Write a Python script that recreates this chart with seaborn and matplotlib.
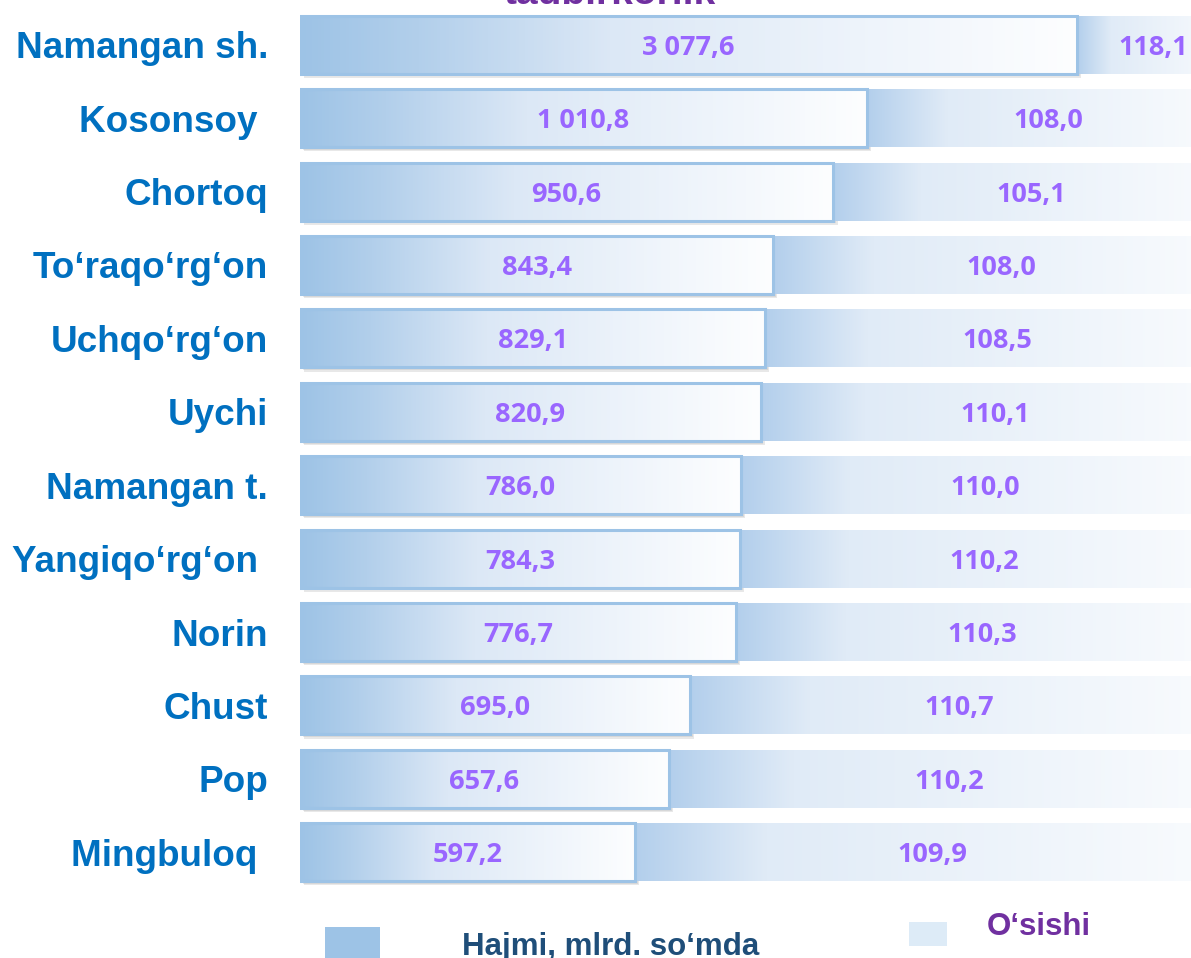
import numpy as np
import pandas as pd
import seaborn as sns
import matplotlib.pyplot as plt
import matplotlib.patheffects as pe
from matplotlib.colors import LinearSegmentedColormap
from matplotlib.patches import Rectangle

# Ma'lumotlar
hududlar = ['Namangan sh.', 'Kosonsoy ', 'Chortoq', 'To‘raqo‘rg‘on', 'Uchqo‘rg‘on', 'Uychi',
            'Namangan t.', 'Yangiqo‘rg‘on ', 'Norin', 'Chust', 'Pop', 'Mingbuloq ']
hajmi = [3077.6, 1010.8, 950.6, 843.4, 829.1, 820.9, 786.0, 784.3, 776.7, 695.0, 657.6, 597.2]
osishi = [118.1, 108.0, 105.1, 108.0, 108.5, 110.1, 110.0, 110.2, 110.3, 110.7, 110.2, 109.9]

UZILISH = 1385   # o'q uzilishi (Namangan sh. juda katta)
JAMI = 1656      # ikkinchi bo'lak tugaydigan joy
XMAX = 1588

df = pd.DataFrame({'hudud': hududlar, 'hajmi': hajmi, 'osishi': osishi})
df['korsat'] = np.minimum(df['hajmi'], UZILISH)
df['jami'] = JAMI


def fmt(v):
    return f"{v:,.1f}".replace(',', ' ').replace('.', ',')


sns.set_style('white')
plt.rcParams['font.family'] = ['Liberation Sans', 'DejaVu Sans']

fig = plt.figure(figsize=(11.91, 9.58), dpi=100)
ax = fig.add_axes([300 / 1191, 69 / 958, 891 / 1191, 881 / 958])

sns.barplot(data=df, y='hudud', x='jami', orient='h', color='#E2ECF8', width=0.79,
            linewidth=0, ax=ax)
sns.barplot(data=df, y='hudud', x='korsat', orient='h', color='#C9DCF1', width=0.79,
            linewidth=0, ax=ax)

n = len(df)
orqa = ax.patches[:n]
old = ax.patches[n:2 * n]

cm2 = LinearSegmentedColormap.from_list('o2', [(0, '#B3CFEC'), (0.22, '#E0EBF7'), (1, '#FAFCFE')])
cm1 = LinearSegmentedColormap.from_list('o1', [(0, '#9DC3E6'), (0.15, '#B2CFEB'),
                                               (0.4, '#DCE8F6'), (1, '#FDFEFF')])
grad = np.linspace(0, 1, 256).reshape(1, -1)

for p_bg, p in zip(orqa, old):
    y0, h = p.get_y(), p.get_height()
    w = p.get_width()
    # ikkinchi bo'lak gradienti
    im = ax.imshow(grad, cmap=cm2, aspect='auto', extent=[w, JAMI, y0 + h, y0], zorder=1.5)
    im.set_clip_path(p_bg)
    # birinchi bo'lak: soya + gradient + chegara
    p.set_path_effects([pe.SimplePatchShadow(offset=(3, -3), shadow_rgbFace='#999999', alpha=0.22),
                        pe.SimplePatchShadow(offset=(2, -2), shadow_rgbFace='#999999', alpha=0.2),
                        pe.Normal()])
    im = ax.imshow(grad, cmap=cm1, aspect='auto', extent=[0, w, y0 + h, y0], zorder=2.5)
    im.set_clip_path(p)
    ax.add_patch(Rectangle((0, y0), w, h, fill=False, edgecolor='#9DC3E6', lw=2.2, zorder=3))

for i, p in enumerate(old):
    yc = p.get_y() + p.get_height() / 2
    w = p.get_width()
    ax.text(w / 2, yc, fmt(df['hajmi'][i]), ha='center', va='center_baseline', color='#9966FF',
            fontsize=19.5, fontweight='bold', family=['Open Sans', 'DejaVu Sans'], zorder=4)
    ax.text((w + JAMI) / 2, yc, fmt(df['osishi'][i]), ha='center', va='center_baseline',
            color='#9966FF', fontsize=19.5, fontweight='bold',
            family=['Open Sans', 'DejaVu Sans'], zorder=4, clip_on=False)

ax.set_xlim(0, XMAX)
ax.set_ylim(n - 0.5, -0.5)
ax.set_xlabel('')
ax.set_ylabel('')
ax.set_xticks([])
ax.tick_params(axis='y', length=0, pad=23)
for t in ax.get_yticklabels():
    t.set_fontsize(26.6)
    t.set_fontweight('bold')
    t.set_color('#0070C0')
for s in ax.spines.values():
    s.set_visible(False)

# sarlavhaning ko'rinib turgan qismi
fig.text(610 / 1191, 1 - 4 / 958, 'tadbirkorlik', ha='center', va='baseline',
         color='#7030A0', fontsize=28, fontweight='bold')

# legenda
fig.patches.append(Rectangle((325 / 1191, 0), 55 / 1191, 31 / 958, transform=fig.transFigure,
                             facecolor='#9DC3E6', edgecolor='none'))
fig.text(462 / 1191, 3 / 958, 'Hajmi, mlrd. so‘mda', ha='left', va='baseline',
         color='#1F4E79', fontsize=22.5, fontweight='bold')
fig.patches.append(Rectangle((909 / 1191, 12 / 958), 38 / 1191, 24 / 958, transform=fig.transFigure,
                             facecolor='#DDEBF7', edgecolor='none'))
fig.text(987 / 1191, 23 / 958, 'O‘sishi', ha='left', va='baseline',
         color='#7030A0', fontsize=22.5, fontweight='bold')

fig.savefig('out.png', dpi=100)
